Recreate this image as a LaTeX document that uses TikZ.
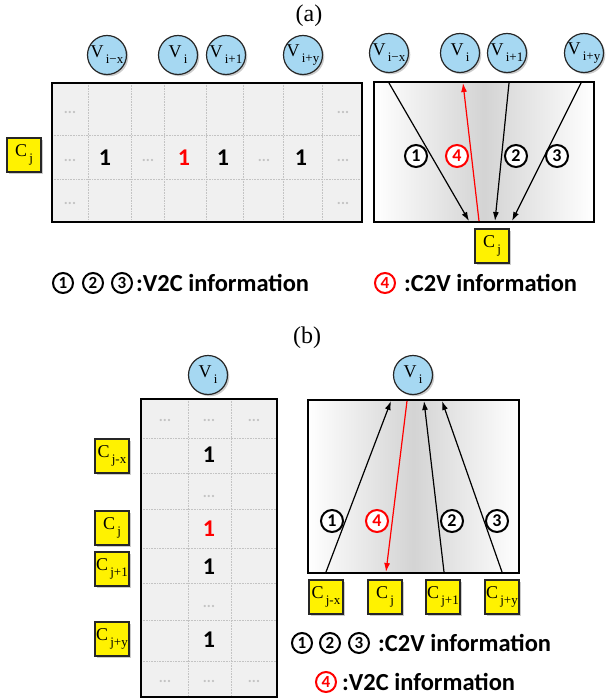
\documentclass[tikz,border=0pt]{standalone}
\usepackage{fontspec}
\setmainfont{Liberation Serif}
\newfontfamily\calib{Carlito}
\usetikzlibrary{arrows.meta,shadows}

\definecolor{vblue}{RGB}{166,216,242}
\definecolor{cellgray}{RGB}{240,240,240}
\definecolor{dotgray}{RGB}{195,195,195}

% node label with a lowered index
\newcommand{\lab}[2]{#1\raisebox{-6pt}{\fontsize{13}{13}\selectfont\,#2}}

\tikzset{
  vnode/.style={circle,draw=black!85,line width=1.2pt,fill=vblue,minimum size=39pt,inner sep=0pt,
    font=\fontsize{18}{18}\selectfont,drop shadow={shadow xshift=1.8pt,shadow yshift=-1.8pt,opacity=0.4}},
  cnode/.style={rectangle,draw=black!85,line width=1.2pt,fill=yellow,minimum size=34pt,inner sep=0pt,
    font=\fontsize{18}{18}\selectfont,drop shadow={shadow xshift=1.8pt,shadow yshift=-1.8pt,opacity=0.4}},
  cnum/.style={circle,draw=black,line width=2pt,fill=white,minimum size=22pt,inner sep=0pt,
    font=\calib\bfseries\fontsize{18}{18}\selectfont},
  rnum/.style={cnum,draw=red,text=red},
  lnum/.style={minimum size=20pt,font=\calib\bfseries\fontsize{17}{17}\selectfont},
  one/.style={inner sep=0pt,font=\calib\bfseries\fontsize{24}{24}\selectfont},
  dots/.style={inner sep=0pt,text=dotgray,font=\calib\bfseries\fontsize{15}{15}\selectfont},
  legend/.style={anchor=west,inner sep=0pt,font=\calib\bfseries\fontsize{24.5}{24.5}\selectfont},
  grid/.style={draw=dotgray,densely dotted,line width=0.6pt},
  frame/.style={draw=black,line width=1.8pt},
  arr/.style={line width=1.2pt,-{Latex[length=9pt,width=6pt]}},
}

\begin{document}
\begin{tikzpicture}[x=1pt,y=-1pt]

\useasboundingbox (0,0) rectangle (606,698) ;

%% ---------------- (a) ----------------
\node (title_a) at (309,16) {\fontsize{24}{24}\selectfont (a)} ;

% matrix
\fill[cellgray] (52,83) rectangle (362,222) ;
\foreach \x in {88,131,164,206,243,283,322}
  \draw[grid] (\x,83) -- (\x,222) ;
\foreach \y in {135,179}
  \draw[grid] (52,\y) -- (362,\y) ;
\draw[frame] (52,83) rectangle (362,222) ;

\foreach \x [count=\k] in {70,343} {
  \node[dots] (dot_a_top\k) at (\x,112) {...} ;
  \node[dots] (dot_a_bot\k) at (\x,203) {...} ;
}
\foreach \x [count=\k] in {70,148,264,343}
  \node[dots] (dot_a_mid\k) at (\x,160) {...} ;
\foreach \x [count=\k] in {105,223,301}
  \node[one] (one_a\k) at (\x,158) {1} ;
\node[one,text=red] (one_a_red) at (184,158) {1} ;

\node[vnode] (v_ix_a) at (107,55) {\lab{V}{i−x}} ;
\node[vnode] (v_i_a) at (178,55) {\lab{V}{i}} ;
\node[vnode] (v_i1_a) at (226,55) {\lab{V}{i+1}} ;
\node[vnode] (v_iy_a) at (303,55) {\lab{V}{i+y}} ;
\node[cnode] (c_j_a) at (24,155) {\lab{C}{j}} ;

% graph
\draw[frame,left color=white,right color=white,middle color=black!17] (374,82) rectangle (594,222) ;

\node[vnode] (g_ix_a) at (389,53) {\lab{V}{i−x}} ;
\node[vnode] (g_i_a) at (460,53) {\lab{V}{i}} ;
\node[vnode] (g_i1_a) at (507,53) {\lab{V}{i+1}} ;
\node[vnode] (g_iy_a) at (584,53) {\lab{V}{i+y}} ;
\node[cnode] (g_j_a) at (492,246) {\lab{C}{j}} ;

\coordinate (a_top1) at (389,83) ;
\coordinate (a_top4) at (463,83) ;
\coordinate (a_top2) at (509,83) ;
\coordinate (a_top3) at (581,83) ;
\coordinate (a_bot1) at (469,221) ;
\coordinate (a_bot4) at (479,221) ;
\coordinate (a_bot2) at (495,221) ;
\coordinate (a_bot3) at (512,221) ;

\draw[arr] (a_top1) -- (a_bot1) ;
\draw[arr] (a_top2) -- (a_bot2) ;
\draw[arr] (a_top3) -- (a_bot3) ;
\draw[arr,red] (a_bot4) -- (a_top4) ;

\node[cnum] (n1_a) at (416,156) {1} ;
\node[rnum] (n4_a) at (457,156) {4} ;
\node[cnum] (n2_a) at (516,156) {2} ;
\node[cnum] (n3_a) at (557,156) {3} ;

% legend
\node[cnum,lnum] (l1_a) at (63,283) {1} ;
\node[cnum,lnum] (l2_a) at (93,283) {2} ;
\node[cnum,lnum] (l3_a) at (122,283) {3} ;
\node[legend] (txt_a1) at (136,283) {:V2C information} ;
\node[rnum,lnum] (l4_a) at (385,283) {4} ;
\node[legend] (txt_a2) at (404,283) {:C2V information} ;

%% ---------------- (b) ----------------
\node (title_b) at (307,338) {\fontsize{24}{24}\selectfont (b)} ;

% matrix
\fill[cellgray] (141,399) rectangle (277,697) ;
\foreach \x in {188,231}
  \draw[grid] (\x,399) -- (\x,697) ;
\foreach \y in {438,473,509,548,583,620,661}
  \draw[grid] (141,\y) -- (277,\y) ;
\draw[frame] (141,399) rectangle (277,697) ;

\foreach \x [count=\k] in {165,209,254} {
  \node[dots] (dot_b_top\k) at (\x,420) {...} ;
  \node[dots] (dot_b_bot\k) at (\x,681) {...} ;
}
\node[dots] (dot_b_mid1) at (209,496) {...} ;
\node[dots] (dot_b_mid2) at (209,606) {...} ;
\node[one] (one_b1) at (209,455) {1} ;
\node[one,text=red] (one_b_red) at (209,529) {1} ;
\node[one] (one_b2) at (209,567) {1} ;
\node[one] (one_b3) at (209,640) {1} ;

\node[vnode] (v_i_b) at (208,375) {\lab{V}{i}} ;
\node[cnode] (c_jx_b) at (112,456) {\lab{C}{j-x}} ;
\node[cnode] (c_j_b) at (112,528) {\lab{C}{j}} ;
\node[cnode] (c_j1_b) at (112,569) {\lab{C}{j+1}} ;
\node[cnode] (c_jy_b) at (112,639) {\lab{C}{j+y}} ;

% graph
\draw[frame,left color=white,right color=white,middle color=black!17] (308,400) rectangle (519,573) ;

\node[vnode] (g_i_b) at (413,375) {\lab{V}{i}} ;
\node[cnode] (g_jx_b) at (326,597) {\lab{C}{j-x}} ;
\node[cnode] (g_j_b) at (385,597) {\lab{C}{j}} ;
\node[cnode] (g_j1_b) at (443,597) {\lab{C}{j+1}} ;
\node[cnode] (g_jy_b) at (502,597) {\lab{C}{j+y}} ;

\coordinate (b_bot1) at (326,572) ;
\coordinate (b_bot4) at (386,572) ;
\coordinate (b_bot2) at (444,572) ;
\coordinate (b_bot3) at (502,572) ;
\coordinate (b_top1) at (391,401) ;
\coordinate (b_top4) at (407,401) ;
\coordinate (b_top2) at (424,401) ;
\coordinate (b_top3) at (442,401) ;

\draw[arr] (b_bot1) -- (b_top1) ;
\draw[arr] (b_bot2) -- (b_top2) ;
\draw[arr] (b_bot3) -- (b_top3) ;
\draw[arr,red] (b_top4) -- (b_bot4) ;

\node[cnum] (n1_b) at (332,521) {1} ;
\node[rnum] (n4_b) at (377,521) {4} ;
\node[cnum] (n2_b) at (452,521) {2} ;
\node[cnum] (n3_b) at (497,521) {3} ;

% legend
\node[cnum,lnum] (l1_b) at (302,643) {1} ;
\node[cnum,lnum] (l2_b) at (330,643) {2} ;
\node[cnum,lnum] (l3_b) at (359,643) {3} ;
\node[legend] (txt_b1) at (378,643) {:C2V information} ;
\node[rnum,lnum] (l4_b) at (326,682) {4} ;
\node[legend] (txt_b2) at (342,682) {:V2C information} ;

\end{tikzpicture}
\end{document}
